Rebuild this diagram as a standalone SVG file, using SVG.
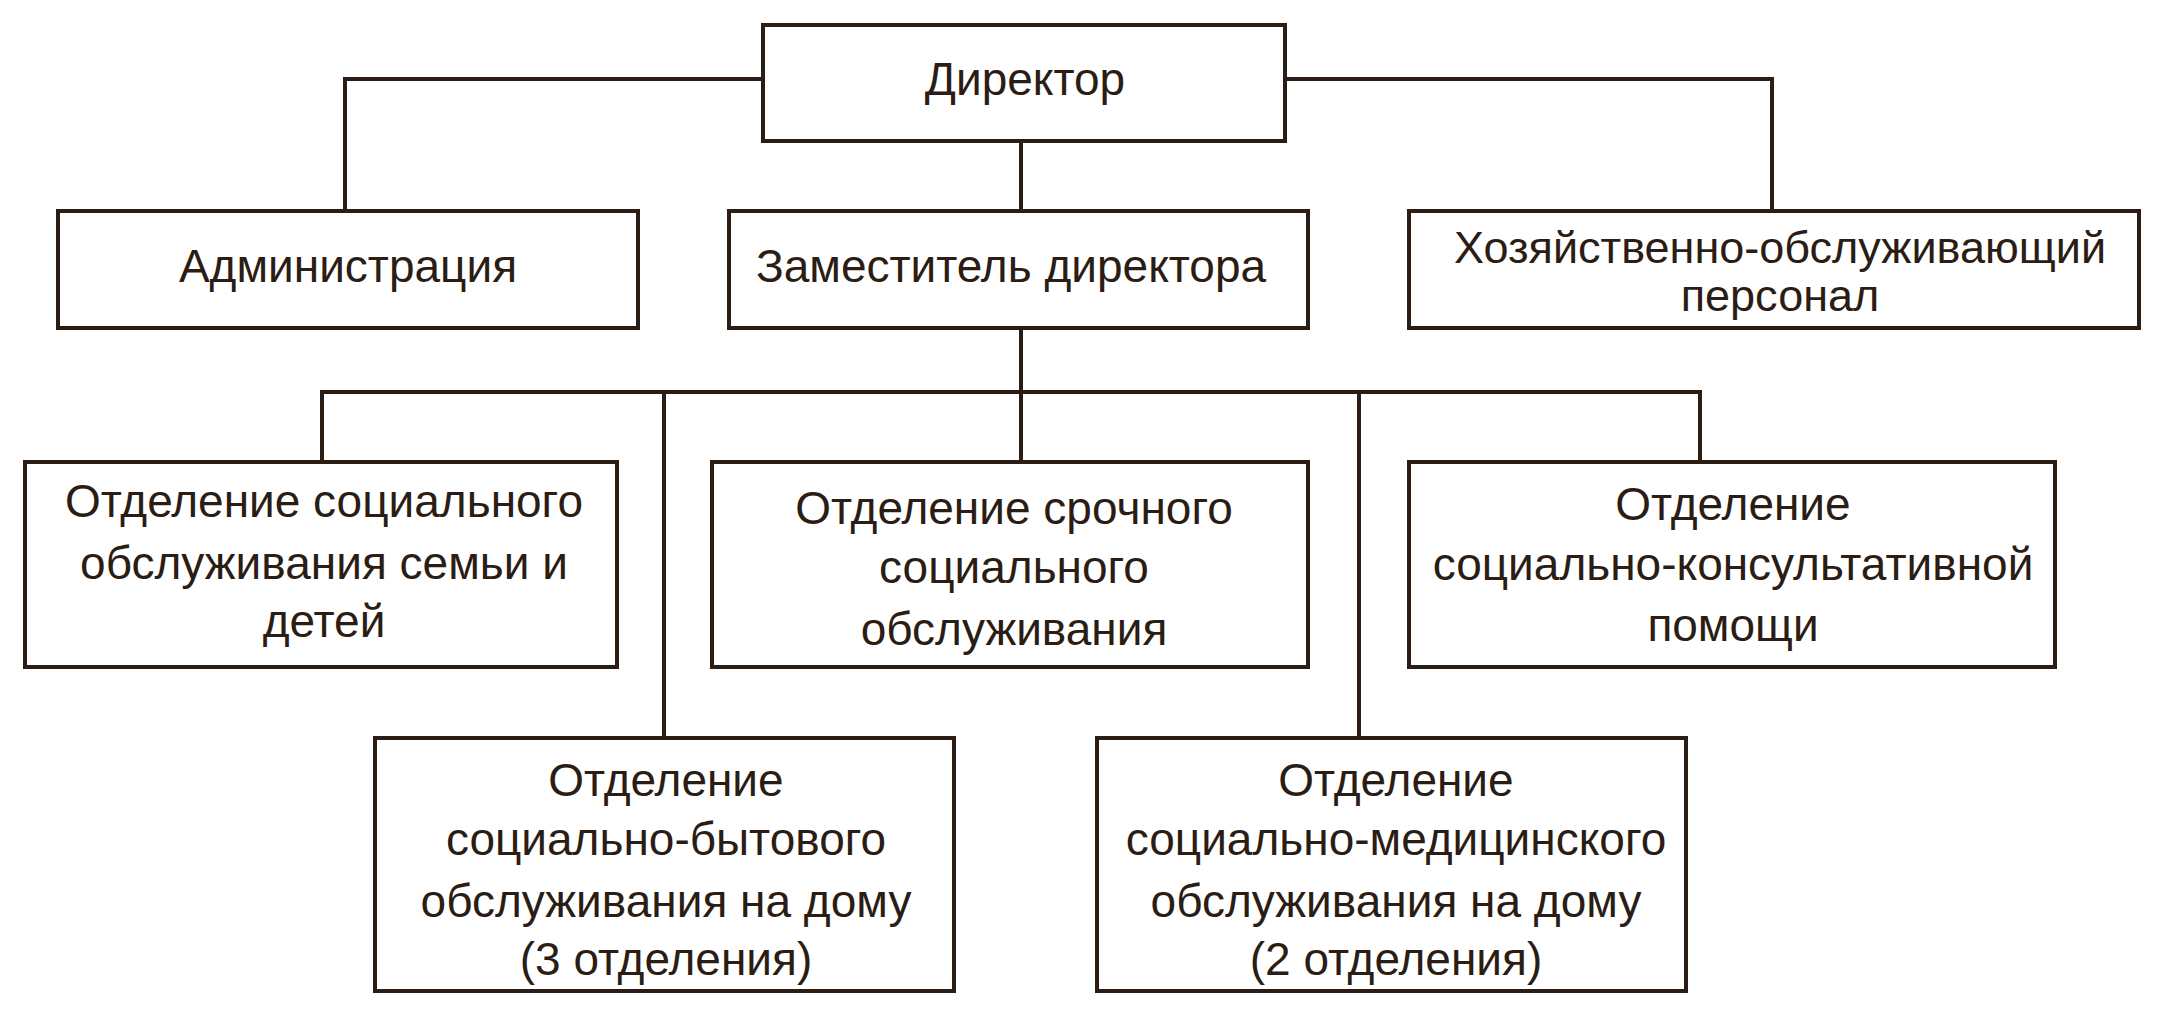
<svg xmlns="http://www.w3.org/2000/svg" width="2163" height="1017" viewBox="0 0 2163 1017">
<style>
rect{fill:#fff;stroke:#2b1d14;stroke-width:4}
#connectors path{fill:none;stroke:#2b1d14;stroke-width:4}
text{font-family:"Liberation Sans",Arial,sans-serif;font-size:46px;fill:#2b1d14;text-anchor:middle}
</style>
<rect x="0" y="0" width="2163" height="1017" style="fill:#fff;stroke:none"/>
<g id="connectors">
<path d="M763 79H345V211M1285 79H1772V211M1021 141V211M1021 328V392M322 462V392H1700V462M1021 392V462M664 392V738M1359 392V738"/>
</g>
<g id="director"><rect x="763" y="25" width="522" height="116"/><text x="1025" y="95">Директор</text></g>
<g id="admin"><rect x="58" y="211" width="580" height="117"/><text x="348" y="282">Администрация</text></g>
<g id="deputy"><rect x="729" y="211" width="579" height="117"/><text x="1011" y="282">Заместитель директора</text></g>
<g id="staff"><rect x="1409" y="211" width="730" height="117"/><text x="1780" y="263" style="font-size:45px">Хозяйственно-обслуживающий</text><text x="1780" y="311" style="font-size:45px">персонал</text></g>
<g id="family"><rect x="25" y="462" width="592" height="205"/><text x="324" y="517">Отделение социального</text><text x="324" y="579">обслуживания семьи и</text><text x="324" y="637">детей</text></g>
<g id="urgent"><rect x="712" y="462" width="596" height="205"/><text x="1014" y="524">Отделение срочного</text><text x="1014" y="583">социального</text><text x="1014" y="645">обслуживания</text></g>
<g id="consult"><rect x="1409" y="462" width="646" height="205"/><text x="1733" y="520">Отделение</text><text x="1733" y="580">социально-консультативной</text><text x="1733" y="641">помощи</text></g>
<g id="household"><rect x="375" y="738" width="579" height="253"/><text x="666" y="796">Отделение</text><text x="666" y="855">социально-бытового</text><text x="666" y="917">обслуживания на дому</text><text x="666" y="975">(3 отделения)</text></g>
<g id="medical"><rect x="1097" y="738" width="589" height="253"/><text x="1396" y="796">Отделение</text><text x="1396" y="855">социально-медицинского</text><text x="1396" y="917">обслуживания на дому</text><text x="1396" y="975">(2 отделения)</text></g>
</svg>
